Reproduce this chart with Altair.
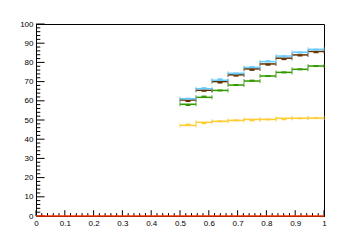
import altair as alt
import pandas as pd
import numpy as np

# bin edges (9 bins from 0.5 to 1.0)
edges = [0.5, 0.5556, 0.6111, 0.6667, 0.7222, 0.7778, 0.8333, 0.8889, 0.9444, 1.0]

blue = [61.1, 66.3, 70.7, 74.3, 77.4, 80.4, 83.3, 85.3, 86.8]
blue_marker = [61.1, 66.6, 71.2, 74.2, 77.6, 80.6, 83.1, 85.1, 86.6]
brown = [60.4, 65.5, 70.0, 73.5, 76.6, 79.2, 82.2, 83.9, 85.7]
brown_marker = [59.9, 65.2, 69.5, 73.1, 76.1, 78.8, 81.7, 83.6, 85.3]
green = [58.2, 61.8, 65.4, 68.2, 70.3, 72.9, 74.8, 76.4, 78.1]
green_marker = [57.8, 62.2, 65.4, 68.2, 70.5, 72.9, 74.8, 76.4, 78.1]
yellow = [47.2, 48.8, 49.3, 49.8, 50.3, 50.3, 50.9, 50.9, 51.0]
yellow_marker = [47.6, 48.3, 49.3, 49.8, 49.8, 50.3, 50.4, 50.9, 51.0]

red_range = [0.0, 1.0]
red_value = [0.0]

x_major = [0.0, 0.1, 0.2, 0.3, 0.4, 0.5, 0.6, 0.7, 0.8, 0.9, 1.0]
y_major = [0, 10, 20, 30, 40, 50, 60, 70, 80, 90, 100]

W, H = 288, 192

series = [
    ("yellow", yellow, yellow_marker, "#ffcc33", "#ffcc33"),
    ("green", green, green_marker, "#339900", "#339900"),
    ("brown", brown, brown_marker, "#663300", "#663300"),
    ("blue", blue, blue_marker, "#66ccff", "#66ccff"),
]

xs = alt.Scale(domain=[0, 1], nice=False, zero=False)
ys = alt.Scale(domain=[0, 100], nice=False, zero=False)

x_axis = alt.Axis(values=x_major, format="~g", title=None, ticks=False, grid=False,
                  labelPadding=3, domainColor="black", labelOverlap=False,
                  labelFlush=False, labelBound=False)
y_axis = alt.Axis(values=y_major, title=None, ticks=False, grid=False,
                  labelPadding=3, domainColor="black", labelOverlap=False,
                  labelFlush=False, labelBound=False)

def X(f):
    return alt.X(f, scale=xs, axis=x_axis)

def Y(f):
    return alt.Y(f, scale=ys, axis=y_axis)

layers = []

base_df = pd.DataFrame({"x": [0.0, 1.0], "y": [0.0, 100.0]})
layers.append(alt.Chart(base_df).mark_point(opacity=0).encode(x=X("x:Q"), y=Y("y:Q")))

x_minor = [round(v, 2) for v in np.arange(0, 1.0001, 0.02) if round(v * 50) % 5 != 0]
y_minor = [v for v in range(0, 101, 2) if v % 10 != 0]

def xticks(vals, length):
    return alt.Chart(pd.DataFrame({"x": vals})).mark_rule(color="black", strokeWidth=1).encode(
        x=X("x:Q"), y=alt.value(H), y2=alt.value(H - length))

def yticks(vals, length):
    return alt.Chart(pd.DataFrame({"y": vals})).mark_rule(color="black", strokeWidth=1).encode(
        y=Y("y:Q"), x=alt.value(0), x2=alt.value(length))

layers += [xticks(x_major, 5.8), xticks(x_minor, 2.9), yticks(y_major, 8.6), yticks(y_minor, 4.3)]

for name, vals, mvals, col, mcol in series:
    df = pd.DataFrame({
        "lo": edges[:-1], "hi": edges[1:],
        "mid": [(a + b) / 2 for a, b in zip(edges[:-1], edges[1:])],
        "v": vals, "m": mvals,
    })
    seg = alt.Chart(df).mark_rule(color=col, strokeWidth=1.5).encode(
        x=X("lo:Q"), x2="hi:Q", y=Y("v:Q"))
    tl = alt.Chart(df).mark_tick(color=col, orient="vertical", size=4, thickness=1.2).encode(
        x=X("lo:Q"), y=Y("v:Q"))
    tr = alt.Chart(df).mark_tick(color=col, orient="vertical", size=4, thickness=1.2).encode(
        x=X("hi:Q"), y=Y("v:Q"))
    mk = alt.Chart(df).mark_tick(color=mcol, orient="horizontal", size=5, thickness=2, opacity=1).encode(
        x=X("mid:Q"), y=Y("m:Q"))
    layers += [seg, tl, tr, mk]

red_df = pd.DataFrame({"lo": [red_range[0]], "hi": [red_range[1]], "v": red_value})
layers.append(alt.Chart(red_df).mark_rule(color="#ff3300", strokeWidth=1.5).encode(
    x=X("lo:Q"), x2="hi:Q", y=Y("v:Q")))

chart = alt.layer(*layers).properties(
    width=W, height=H,
    autosize=alt.AutoSizeParams(type="none"),
    padding={"left": 36, "top": 24, "right": 36, "bottom": 24},
    background="white",
).configure_view(stroke="black", strokeWidth=1).configure_axis(
    labelFont="Liberation Sans", labelFontSize=8, labelColor="black", domainWidth=1,
    labelOverlap=False
)

chart.save("out.html", embed_options={"renderer": "svg", "actions": False})
